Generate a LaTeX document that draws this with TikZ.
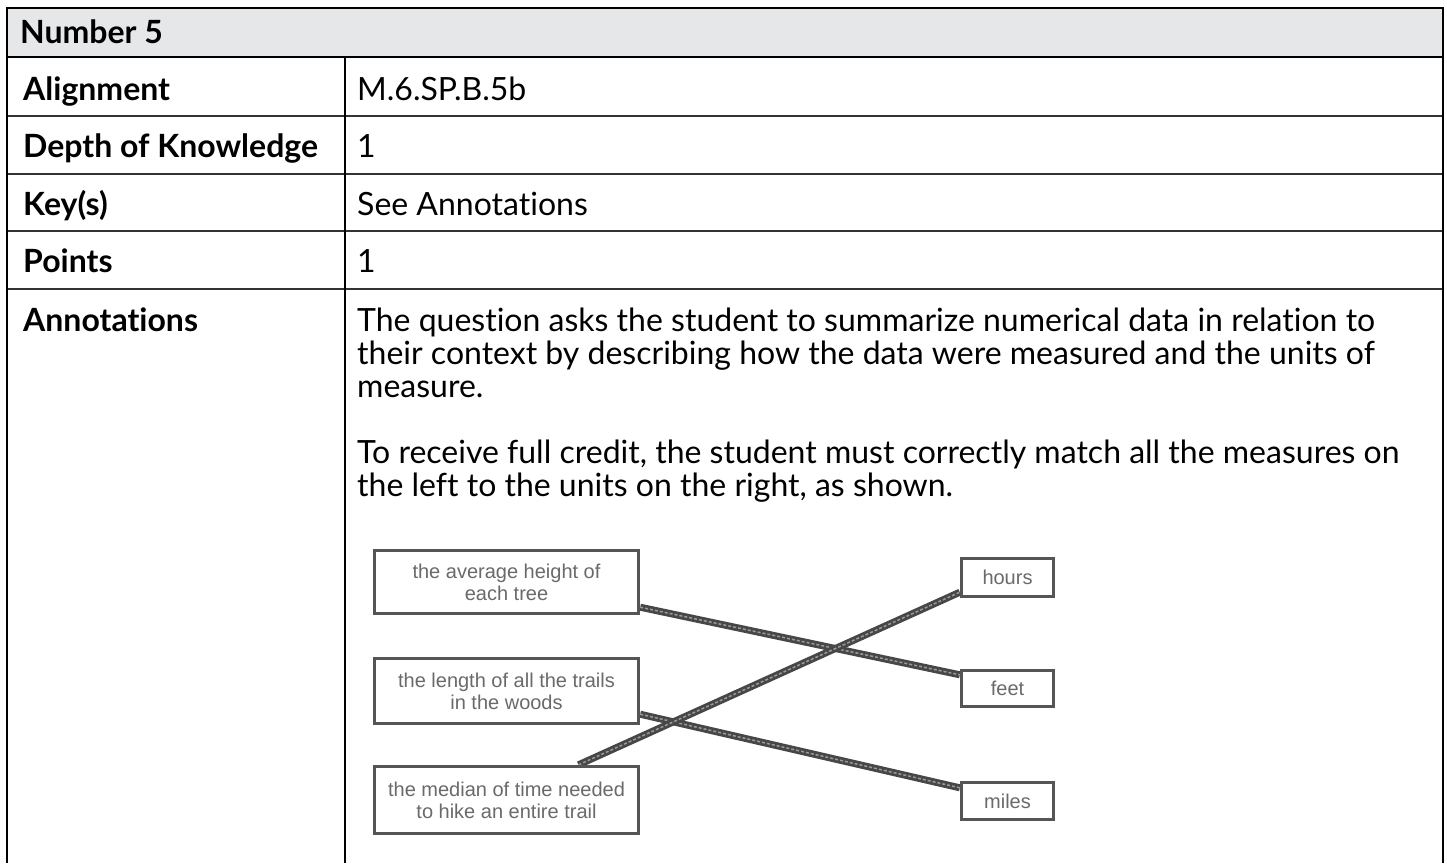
\documentclass[tikz,border=0pt]{standalone}
\usepackage{fontspec}
\setmainfont{Lato}[Ligatures={NoCommon}]
\newfontfamily\arialf{Liberation Sans}
\usetikzlibrary{backgrounds}
\definecolor{headbg}{HTML}{E6E7E8}
\definecolor{rowgray}{HTML}{333333}
\definecolor{boxgray}{HTML}{555555}
\definecolor{boxtext}{HTML}{6A6A6A}
\definecolor{linkdark}{HTML}{474747}
\definecolor{linklight}{HTML}{9A9A9A}
\tikzset{
  border/.style={draw=black, line width=2.4pt},
  rowline/.style={draw=rowgray, line width=2.2pt},
  lbl/.style={anchor=base west, inner sep=0pt, font=\fontsize{32}{33}\selectfont\bfseries},
  val/.style={anchor=base west, inner sep=0pt, font=\fontsize{32}{33}\selectfont},
  mbox/.style={draw=boxgray, line width=3.4pt, fill=white, align=center, inner sep=0pt,
    text=boxtext, font=\arialf\fontsize{20}{22}\selectfont},
  link/.style={draw=linkdark, line width=7pt,
    postaction={draw=linklight, line width=1.5pt, dash pattern=on 3pt off 2pt}}
}
\begin{document}
\begin{tikzpicture}[x=1pt,y=-1pt]
\useasboundingbox (0,0) rectangle (1447,863);
% header background
\fill[headbg] (7,8) rectangle (1443,57);
% row separators
\draw[rowline] (7,116) -- (1443,116);
\draw[rowline] (7,174) -- (1443,174);
\draw[rowline] (7,231) -- (1443,231);
\draw[rowline] (7,289) -- (1443,289);
\draw[border] (7,57) -- (1443,57);
% column divider
\draw[border] (345,57) -- (345,863);
% outer border (open at the bottom)
\draw[border] (7,863) -- (7,8) -- (1443,8) -- (1443,863);

% labels
\node[lbl] (hdr) at (20,43) {Number 5};
\node[lbl] (lAlign) at (23,100) {Alignment};
\node[lbl] (lDepth) at (23,157) {Depth of Knowledge};
\node[lbl] (lKey) at (23,215) {Key(s)};
\node[lbl] (lPts) at (23,272) {Points};
\node[lbl] (lAnn) at (23,331) {Annotations};

% values
\node[val] (vAlign) at (357,100) {M.6.SP.B.5b};
\node[val] (vDepth) at (357,157) {1};
\node[val] (vKey) at (357,215) {See Annotations};
\node[val] (vPts) at (357,272) {1};
\node[val] (p1a) at (357,331) {The question asks the student to summarize numerical data in relation to};
\node[val] (p1b) at (357,364) {their context by describing how the data were measured and the units of};
\node[val] (p1c) at (357,397) {measure.};
\node[val] (p2a) at (357,463) {To receive full credit, the student must correctly match all the measures on};
\node[val] (p2b) at (357,496) {the left to the units on the right, as shown.};

% matching diagram
\node[mbox, minimum width=264pt, minimum height=63pt] (b1) at (506.5,582) {the average height of\\each tree};
\node[mbox, minimum width=264pt, minimum height=65pt] (b2) at (506.5,691) {the length of all the trails\\in the woods};
\node[mbox, minimum width=264pt, minimum height=67pt] (b3) at (506.5,800) {the median of time needed\\to hike an entire trail};
\node[mbox, minimum width=92pt, minimum height=38pt] (hours) at (1007.5,577.5) {hours};
\node[mbox, minimum width=92pt, minimum height=36pt] (feet) at (1007.5,688.5) {feet};
\node[mbox, minimum width=92pt, minimum height=37pt] (miles) at (1007.5,801) {miles};

\begin{pgfonlayer}{background}
\draw[link] ([yshift=8pt]b1.south east) -- ([yshift=-6pt]feet.north west);
\draw[link] ([yshift=11pt]b2.south east) -- ([yshift=-7pt]miles.north west);
\draw[link] ([xshift=72pt]b3.north) -- ([yshift=6pt]hours.south west);
\end{pgfonlayer}
\end{tikzpicture}
\end{document}
